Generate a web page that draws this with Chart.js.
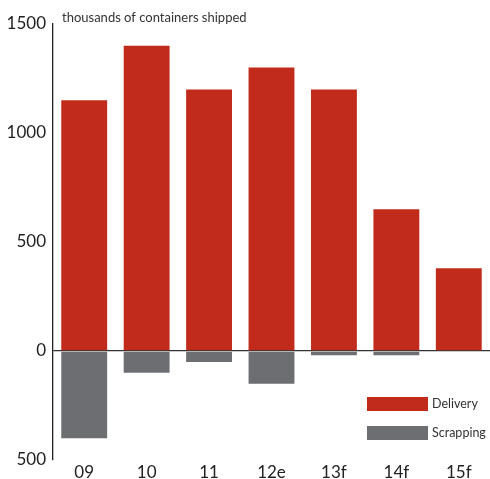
<!DOCTYPE html>
<html>
<head>
<meta charset="utf-8">
<script src="https://cdn.jsdelivr.net/npm/chart.js@4"></script>
<style>
  html, body { margin: 0; padding: 0; background: #fff; }
  #wrap { width: 490px; height: 479px; }
</style>
</head>
<body>
<div id="wrap"><canvas id="myChart" width="490" height="479"></canvas></div>
<script>
'use strict'
const years = ['09', '10', '11', '12e', '13f', '14f', '15f'];
const delivery = [1150, 1400, 1200, 1300, 1200, 650, 380];
const scrapping = [-400, -100, -50, -150, -20, -20, 0];
const yTicks = [-500, 0, 500, 1000, 1500];
const unitLabel = 'thousands of containers shipped';

const red = '#c02b1b';
const grey = '#6d6e72';
const fontName = 'Lato, "Open Sans", sans-serif';

// title and legend are drawn by hand, like the original
const extras = {
    id: 'extras',
    afterDraw(chart) {
        let ctx = chart.ctx;
        let area = chart.chartArea;
        ctx.save();
        ctx.font = '13px ' + fontName;
        ctx.fillStyle = '#333';
        ctx.textBaseline = 'middle';
        ctx.fillText(unitLabel, area.left + 9, 18);

        ctx.font = '12.5px ' + fontName;
        let sets = chart.data.datasets;
        for (let i = 0; i < sets.length; i++) {
            let y = 404 + i * 29;
            ctx.fillStyle = sets[i].backgroundColor;
            ctx.fillRect(367, y - 7, 61, 14);
            ctx.fillStyle = '#333';
            ctx.fillText(sets[i].label, 432, y);
        }
        ctx.restore();
    }
};

let ctx = document.getElementById('myChart');
let myChart = new Chart(ctx, {
    type: 'bar',
    data: {
        labels: years,
        datasets: [{
            label: 'Delivery',
            data: delivery,
            backgroundColor: red
        },
        {
            label: 'Scrapping',
            data: scrapping,
            backgroundColor: grey
        }]
    },
    options: {
        responsive: false,
        animation: false,
        layout: { padding: { top: 24, right: 0, bottom: 0, left: 0 } },
        datasets: {
            bar: { categoryPercentage: 1, barPercentage: 0.735 }
        },
        plugins: {
            legend: { display: false },
            tooltip: { enabled: false }
        },
        scales: {
            x: {
                stacked: true,
                grid: { display: false, drawTicks: false },
                border: { display: false },
                ticks: {
                    color: '#222',
                    font: { family: fontName, size: 17 },
                    padding: 2
                },
                afterFit(scale) { scale.height = 19; }
            },
            y: {
                stacked: true,
                min: yTicks[0],
                max: yTicks[yTicks.length - 1],
                afterBuildTicks(scale) {
                    scale.ticks = yTicks.map(v => ({ value: v }));
                },
                grid: {
                    drawTicks: false,
                    color: c => c.tick && c.tick.value === 0 ? '#333' : 'rgba(0,0,0,0)',
                    lineWidth: 1.3
                },
                border: { display: true, color: '#222', width: 1.3 },
                ticks: {
                    color: '#222',
                    font: { family: fontName, size: 17 },
                    padding: 7,
                    callback: v => Math.abs(v)
                },
                afterFit(scale) { scale.width = 53; }
            }
        }
    },
    plugins: [extras]
});
</script>
</body>
</html>
